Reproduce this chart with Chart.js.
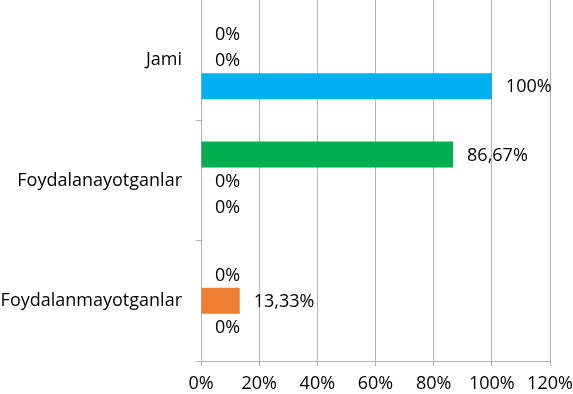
<!DOCTYPE html>
<html>
<head>
<meta charset="utf-8">
<script src="https://cdn.jsdelivr.net/npm/chart.js@4"></script>
<style>
  html, body { margin: 0; padding: 0; background: #fff; }
  #wrap { width: 573px; height: 394px; }
</style>
</head>
<body>
<div id="wrap"><canvas id="barChart"></canvas></div>
<script>
// categories, top to bottom
var categories = ['Jami', 'Foydalanayotganlar', 'Foydalanmayotganlar'];

// series values (percent)
var greenValues = [0, 86.67, 0];
var orangeValues = [0, 0, 13.33];
var blueValues = [100, 0, 0];

var xTicks = [0, 20, 40, 60, 80, 100, 120];

var fontFamily = "'Open Sans', sans-serif";
var gridColor = '#b4b4b4';

//Writes value labels next to every bar, zeros too
var valueLabels = {
    id: 'valueLabels',
    afterDatasetsDraw: function(chart) {
        var ctx = chart.ctx;
        ctx.save();
        ctx.font = '18px ' + fontFamily;
        ctx.fillStyle = '#000';
        ctx.textAlign = 'left';
        ctx.textBaseline = 'middle';
        chart.data.datasets.forEach(function(ds, i) {
            var meta = chart.getDatasetMeta(i);
            meta.data.forEach(function(bar, j) {
                var txt = String(ds.data[j]).replace('.', ',') + '%';
                ctx.fillText(txt, bar.x + 14, bar.y + 1);
            });
        });
        ctx.restore();
    }
};

function makeChart() {
    var chrt = document.getElementById('barChart').getContext('2d');
    var config = {
        type: 'bar',
        data: {
            labels: categories,
            datasets: [
                { label: 'green', data: greenValues, backgroundColor: '#00b050' },
                { label: 'orange', data: orangeValues, backgroundColor: '#ed7d31' },
                { label: 'blue', data: blueValues, backgroundColor: '#00b0f0' }
            ]
        },
        options: {
            indexAxis: 'y',
            responsive: true,
            maintainAspectRatio: false,
            animation: false,
            categoryPercentage: 0.65,
            barPercentage: 1,
            layout: { padding: 0 },
            plugins: {
                legend: { display: false },
                tooltip: { enabled: false }
            },
            scales: {
                x: {
                    min: 0,
                    max: 120,
                    afterBuildTicks: function(axis) {
                        axis.ticks = xTicks.map(function(v) { return { value: v }; });
                    },
                    afterFit: function(s) {
                        s.height = 33;
                        s.paddingLeft = 0;
                        s.paddingRight = 23;
                    },
                    grid: { color: gridColor, tickLength: 5 },
                    border: { color: gridColor },
                    ticks: {
                        color: '#000',
                        padding: 7,
                        font: { family: fontFamily, size: 18 },
                        callback: function(v) { return v + '%'; }
                    }
                },
                y: {
                    afterFit: function(s) {
                        s.width = 201;
                        s.paddingTop = 0;
                        s.paddingBottom = 0;
                    },
                    grid: { color: gridColor, drawOnChartArea: false, tickLength: 5 },
                    border: { color: gridColor },
                    ticks: {
                        color: '#000',
                        padding: 14,
                        font: { family: fontFamily, size: 18 }
                    }
                }
            }
        },
        plugins: [valueLabels]
    };
    return new Chart(chrt, config);
}

var barChart = makeChart();
</script>
</body>
</html>
